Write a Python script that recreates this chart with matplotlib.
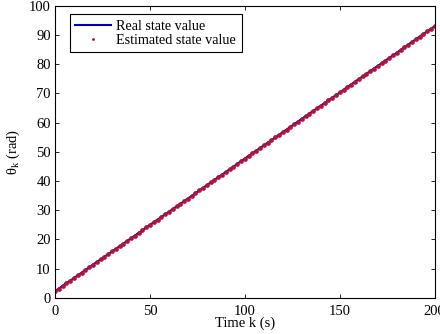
import numpy as np
import matplotlib.pyplot as plt

plt.rcParams['font.family'] = ['Liberation Serif', 'DejaVu Serif']
plt.rcParams['mathtext.fontset'] = 'custom'
plt.rcParams['mathtext.rm'] = 'Liberation Serif'

# real state, sampled every 10 s
k_real = np.arange(0, 201, 10)
theta_real = [2.3, 6.8, 11.4, 15.9, 20.4, 25.0, 29.5, 34.0, 38.6, 43.1, 47.7,
              52.2, 56.7, 61.3, 65.8, 70.3, 74.9, 79.4, 83.9, 88.5, 93.0]

# estimated state, every 2 s
k_est = np.arange(0, 201, 2)
theta_est = [2.3, 3.2, 4.1, 5.0, 5.9, 6.8, 7.7, 8.6, 9.6, 10.5,
             11.4, 12.3, 13.2, 14.1, 15.0, 15.9, 16.8, 17.7, 18.6, 19.5,
             20.4, 21.3, 22.3, 23.2, 24.1, 25.0, 25.9, 26.8, 27.7, 28.6,
             29.5, 30.4, 31.3, 32.2, 33.1, 34.0, 35.0, 35.9, 36.8, 37.7,
             38.6, 39.5, 40.4, 41.3, 42.2, 43.1, 44.0, 44.9, 45.8, 46.7,
             47.7, 48.6, 49.5, 50.4, 51.3, 52.2, 53.1, 54.0, 54.9, 55.8,
             56.7, 57.6, 58.5, 59.4, 60.3, 61.3, 62.2, 63.1, 64.0, 64.9,
             65.8, 66.7, 67.6, 68.5, 69.4, 70.3, 71.2, 72.1, 73.0, 73.9,
             74.9, 75.8, 76.7, 77.6, 78.5, 79.4, 80.3, 81.2, 82.1, 83.0,
             83.9, 84.8, 85.7, 86.6, 87.6, 88.5, 89.4, 90.3, 91.2, 92.1,
             93.0]

fig = plt.figure(figsize=(4.4, 3.34), dpi=100)
ax = fig.add_axes([0.125, 0.108, 0.863, 0.875])

ax.plot(k_real, theta_real, color='#0000b0', lw=1.5, label='Real state value')
est, = ax.plot(k_est, theta_est, linestyle='none', marker='o', markersize=3.4,
               markeredgewidth=0, color='#b0143c',
               label='Estimated state value')

ax.set_xlim(0, 200)
ax.set_ylim(0, 100)
ax.set_xticks([0, 50, 100, 150, 200])
ax.set_yticks(range(0, 101, 10))
ax.tick_params(direction='in', top=True, right=True, labelsize=10.5,
               length=3, width=0.6)
ax.tick_params(axis='x', pad=5)
ax.tick_params(axis='y', pad=3)
for s in ax.spines.values():
    s.set_linewidth(0.8)

ax.set_xlabel('Time k (s)', fontsize=10.5, labelpad=-1)
ax.set_ylabel(r'θ$_\mathrm{k}$ (rad)', fontsize=10.5, labelpad=5)

leg = ax.legend(loc='upper left', bbox_to_anchor=(0.02, 0.995), fontsize=10.2,
                fancybox=False, edgecolor='black', framealpha=1,
                handlelength=2.5, borderpad=0.4, labelspacing=0.05,
                handletextpad=0.4, markerscale=0.6)
leg.get_frame().set_linewidth(0.8)

fig.savefig('out.png', dpi=100)
